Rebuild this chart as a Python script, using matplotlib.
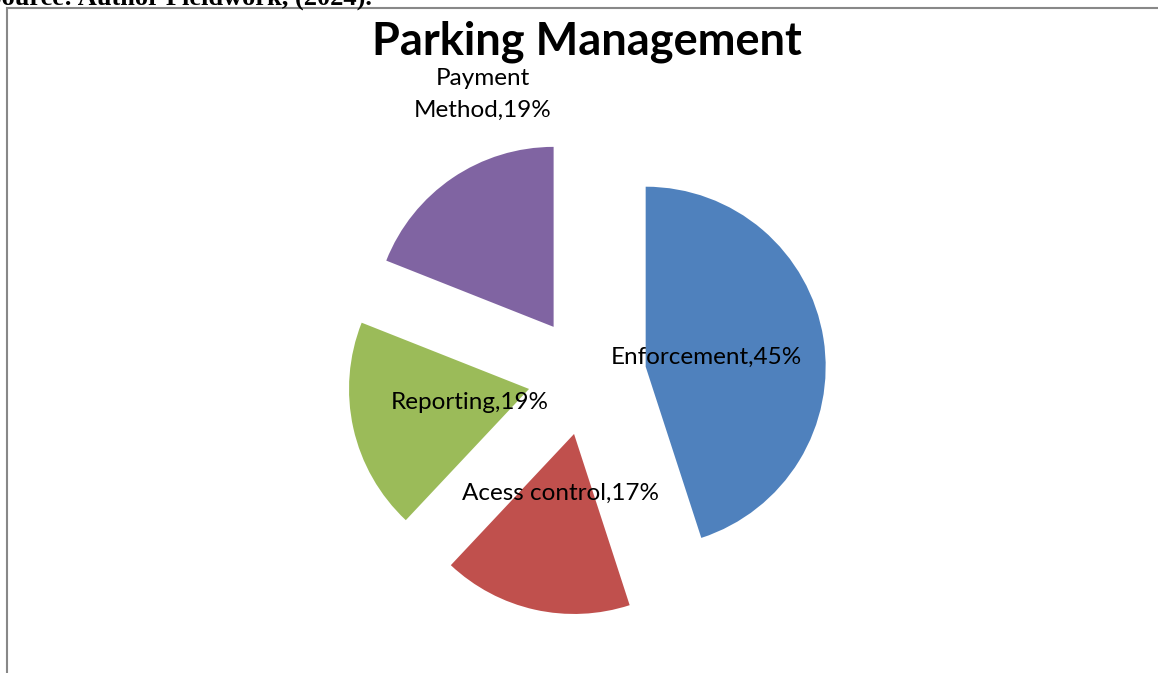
import math

import matplotlib

matplotlib.use("Agg")

import matplotlib.pyplot as plt  # noqa: E402
from matplotlib.patches import Rectangle  # noqa: E402

# Data
categories = ["Enforcement", "Acess control", "Reporting", "Payment\nMethod"]
shares = [45, 17, 19, 19]
colors = ["#4F81BD", "#C0504D", "#9BBB59", "#8064A2"]

W, H = 1158, 673
DPI = 100
R_PX = 180  # pie radius in pixels
CX, CY = 587, 376  # pie centre, pixels from top-left

fig = plt.figure(figsize=(W / DPI, H / DPI), dpi=DPI, facecolor="white")
ax = fig.add_axes([0, 0, 1, 1])

wedges, _ = ax.pie(
    shares,
    colors=colors,
    startangle=90,
    counterclock=False,
    explode=[0.33] * len(shares),
    radius=1.0,
    wedgeprops=dict(linewidth=0),
)
# pie() resets the view, so fix the scale afterwards: 1 unit = R_PX pixels
ax.set_aspect("auto")
ax.set_xlim(-CX / R_PX, (W - CX) / R_PX)
ax.set_ylim(-(H - CY) / R_PX, CY / R_PX)
ax.axis("off")

label_font = dict(family=["Lato", "DejaVu Sans"], fontsize=17.5, color="black")
for i, (w, name, val) in enumerate(zip(wedges, categories, shares)):
    mid = math.radians((w.theta1 + w.theta2) / 2)
    vx, vy = w.center
    if i == 3:
        # outside label for the payment slice
        ang, dist = math.radians(107), 1.35
    else:
        ang, dist = mid, 0.34
    ax.text(vx + dist * math.cos(ang), vy + dist * math.sin(ang),
            f"{name},{val}%", ha="center", va="center",
            multialignment="center", linespacing=1.6, **label_font)

fig.text(587 / W, 1 - 42 / H, "Parking Management", ha="center", va="center",
         family=["Lato", "DejaVu Sans"], fontweight="bold", fontsize=32.5)

# cropped source line at the very top
fig.text(-13 / W, 1 - 5 / H, "Source: Author Fieldwork, (2024).", ha="left",
         va="baseline", family=["Liberation Serif", "DejaVu Serif"],
         fontweight="bold", fontsize=19)

# chart frame
fig.patches.append(Rectangle((7 / W, -0.1), 1.2, 1 - 8 / H + 0.1,
                             transform=fig.transFigure, fill=False,
                             edgecolor="#888888", linewidth=1.5))

fig.savefig("out.png", dpi=DPI, facecolor="white")
plt.close(fig)
